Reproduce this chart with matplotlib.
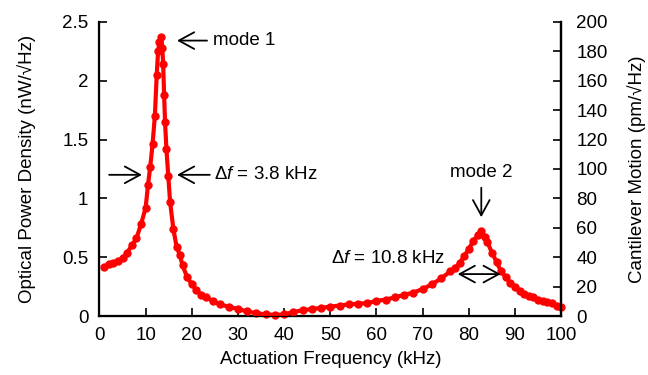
import matplotlib
matplotlib.use("Agg")
from matplotlib import pyplot as plt

plt.rcParams['font.family'] = ['Liberation Sans', 'DejaVu Sans']
plt.rcParams['mathtext.fontset'] = 'custom'
plt.rcParams['mathtext.it'] = 'Liberation Sans:italic'
plt.rcParams['mathtext.rm'] = 'Liberation Sans'

# actuation frequency (kHz) and optical power density (nW/sqrt(Hz))
freq = [1, 2, 3, 4, 5, 6, 7, 8, 9, 10, 10.5, 11, 11.5, 12, 12.4, 12.7, 13.0, 13.3,
        13.6, 13.8, 14.0, 14.2, 14.5, 14.9, 15.3, 16.0, 16.7, 17.4, 18, 19, 20, 21,
        22, 23, 24.5, 26, 28, 30, 32, 34, 36, 38, 40, 42, 44, 46, 48, 50, 52, 54,
        56, 58, 60, 62, 64, 66, 68, 70, 72, 74, 76, 77, 78, 79, 80, 81, 82, 82.7,
        83.5, 84, 85, 86, 87, 88, 89, 90, 91, 92, 93, 94, 95, 96, 97, 98, 99, 100]
power = [0.42, 0.44, 0.45, 0.47, 0.49, 0.54, 0.60, 0.66, 0.78, 0.92, 1.11, 1.27,
         1.46, 1.70, 2.05, 2.25, 2.33, 2.37, 2.28, 2.14, 1.88, 1.65, 1.42, 1.19,
         0.97, 0.74, 0.59, 0.52, 0.43, 0.33, 0.27, 0.22, 0.18, 0.16, 0.13, 0.10,
         0.08, 0.06, 0.04, 0.025, 0.015, 0.01, 0.015, 0.035, 0.05, 0.06, 0.07,
         0.08, 0.09, 0.10, 0.105, 0.11, 0.13, 0.14, 0.16, 0.18, 0.20, 0.23, 0.27,
         0.32, 0.38, 0.41, 0.45, 0.51, 0.57, 0.64, 0.69, 0.72, 0.67, 0.63, 0.54,
         0.46, 0.38, 0.33, 0.28, 0.25, 0.21, 0.19, 0.17, 0.16, 0.14, 0.13, 0.12,
         0.11, 0.09, 0.08]

xticks = list(range(0, 101, 10))
yticks = [0, 0.5, 1, 1.5, 2, 2.5]
yticklabels = ['0', '0.5', '1', '1.5', '2', '2.5']
y2ticks = list(range(0, 201, 20))

fs = 13.5

fig = plt.figure(figsize=(6.48, 3.75), dpi=100)
ax = fig.add_axes([0.1535, 0.157, 0.7125, 0.785])

ax.plot(freq, power, '-', color='red', lw=3.0, marker='o', ms=5.0,
        mfc='red', mec='red', zorder=3, clip_on=False)

ax.set_xlim(0, 100)
ax.set_ylim(0, 2.5)
ax.set_xticks(xticks)
ax.set_yticks(yticks)
ax.set_yticklabels(yticklabels)
ax.spines['top'].set_visible(False)
for s in ['left', 'bottom', 'right']:
    ax.spines[s].set_linewidth(1.6)
ax.tick_params(direction='in', length=6, width=1.2, labelsize=fs)
ax.tick_params(axis='x', pad=8)
ax.tick_params(axis='y', pad=8)
ax.set_xlabel('Actuation Frequency (kHz)', fontsize=fs, labelpad=5)
ax.set_ylabel('Optical Power Density (nW/\u221aHz)', fontsize=fs, labelpad=19)

ax2 = ax.twinx()
ax2.set_ylim(0, 200)
ax2.set_yticks(y2ticks)
ax2.spines['top'].set_visible(False)
ax2.spines['right'].set_linewidth(1.6)
ax2.tick_params(direction='in', length=6, width=1.2, labelsize=fs, pad=11)
ax2.set_ylabel('Cantilever Motion (pm/\u221aHz)', fontsize=fs, labelpad=14)

hs = 'head_length=1.1,head_width=0.6'
arr = dict(arrowstyle='->,' + hs, lw=1.3, color='black', shrinkA=0, shrinkB=0)

# mode 1
ax.annotate('', xy=(16.8, 2.34), xytext=(23.3, 2.34), arrowprops=arr)
ax.text(24.5, 2.34, 'mode 1', fontsize=fs, va='center', ha='left')

# linewidth of mode 1
ax.annotate('', xy=(9.2, 1.20), xytext=(2.1, 1.20), arrowprops=arr)
ax.annotate('', xy=(16.8, 1.20), xytext=(23.9, 1.20), arrowprops=arr)
ax.text(24.8, 1.20, '\u0394$f$ = 3.8 kHz', fontsize=fs, va='center', ha='left')

# mode 2
ax.text(82.7, 1.22, 'mode 2', fontsize=fs, va='center', ha='center')
ax.annotate('', xy=(82.7, 0.84), xytext=(82.7, 1.09), arrowprops=arr)

# linewidth of mode 2
ax.annotate('', xy=(77.6, 0.357), xytext=(86.9, 0.357),
            arrowprops=dict(arrowstyle='<->,' + hs, lw=1.3, color='black',
                            shrinkA=0, shrinkB=0))
ax.text(74.9, 0.49, '\u0394$f$ = 10.8 kHz', fontsize=fs, va='center', ha='right')

fig.savefig('out.png', dpi=100)
